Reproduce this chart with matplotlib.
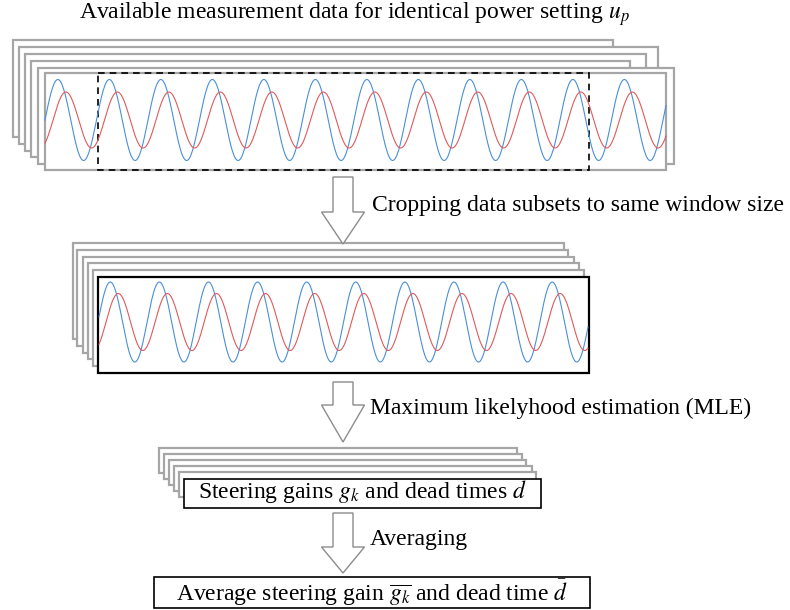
import numpy as np
from matplotlib import pyplot as plt
from matplotlib.patches import Rectangle, Polygon

plt.rcParams['font.family'] = ['Liberation Serif', 'DejaVu Serif']
plt.rcParams['mathtext.fontset'] = 'stix'

# Stacked frames of the raw measurement data (pixel coords, back to front)
top_left = [13, 19, 25, 31, 38, 45]
top_top = [40, 47, 54, 61, 68, 73]
top_right = [613, 658, 646, 630, 674, 666]
top_bottom = [137, 144, 151, 157, 164, 170]

# Cropped subsets, all the same size
mid_left = [73, 77, 83, 88, 93, 98]
mid_top = [243, 250, 257, 263, 270, 277]
mid_width = 491
mid_height = 96

# Stack of MLE results
res_left = [159, 164, 169, 174, 179]
res_top = [448, 454, 460, 466, 472]
res_right = [517, 522, 526, 532, 536]
res_height = 25

# Schematic sine waves: (period, start x, centre y, blue amp, red amp, red lag)
top_wave = (51.5, 45, 120, 40.5, 28, 8)
mid_wave = (49.1, 98, 322, 40, 28.5, 8)

blue = '#4a8fd8'
red = '#e05a5a'
gray = '#a6a6a6'
fs = 17

labels = [
    "Cropping data subsets to same window size",
    "Maximum likelyhood estimation (MLE)",
    "Averaging",
]

fig = plt.figure(figsize=(7.9, 6.1), dpi=100)
ax = fig.add_axes([0, 0, 1, 1])
ax.set_xlim(0, 790)
ax.set_ylim(610, 0)
ax.axis('off')


def frame(x0, y0, x1, y1, color=gray, lw=1.6, ls='-', fill='white'):
    ax.add_patch(Rectangle((x0, y0), x1 - x0, y1 - y0, facecolor=fill,
                           edgecolor=color, lw=lw, ls=ls))


def waves(params, x0, x1):
    period, start, yc, a_blue, a_red, lag = params
    x = np.linspace(x0, x1, 800)
    ph = 2 * np.pi * (x - start) / period
    ax.plot(x, yc - a_blue * np.sin(ph), color=blue, lw=0.8)
    ax.plot(x, yc - a_red * np.sin(ph - 2 * np.pi * lag / period), color=red, lw=0.8)


def arrow(xc, y_top, y_base, y_tip, shaft=20, head=43):
    pts = [(xc - shaft / 2, y_top), (xc + shaft / 2, y_top), (xc + shaft / 2, y_base),
           (xc + head / 2, y_base), (xc, y_tip), (xc - head / 2, y_base),
           (xc - shaft / 2, y_base)]
    ax.add_patch(Polygon(pts, closed=True, facecolor='white', edgecolor='#8c8c8c',
                         lw=1.0, zorder=5))


# Top panel
ax.text(354, 14, r"Available measurement data for identical power setting $u_p$",
        ha='center', va='center', fontsize=fs)
for l, t, r, b in zip(top_left, top_top, top_right, top_bottom):
    frame(l, t, r, b)
waves(top_wave, top_left[-1], top_right[-1])
frame(98, top_top[-1], 589, top_bottom[-1], color='black', lw=1.2,
      ls=(0, (4, 3)), fill='none')

# Arrow 1
arrow(343, 177, 212, 244)
ax.text(372, 205, labels[0], ha='left', va='center', fontsize=fs)

# Middle panel
for i, (l, t) in enumerate(zip(mid_left, mid_top)):
    last = i == len(mid_left) - 1
    frame(l, t, l + mid_width, t + mid_height,
          color='black' if last else gray, lw=1.6)
waves(mid_wave, mid_left[-1] + 1, mid_left[-1] + mid_width - 1)

# Arrow 2
arrow(343, 382, 405, 442)
ax.text(370, 408, labels[1], ha='left', va='center', fontsize=fs)

# Result stack
for l, t, r in zip(res_left, res_top, res_right):
    frame(l, t, r, t + res_height)
frame(184, 479, 541, 508, color='black', lw=1.2)
ax.text(362, 498, r"Steering gains $g_k$ and dead times $d$",
        ha='center', va='baseline', fontsize=fs)

# Arrow 3
arrow(343, 513, 547, 573)
ax.text(370, 540, labels[2], ha='left', va='center', fontsize=fs)

# Final result
frame(154, 577, 590, 608, color='black', lw=1.2)
ax.text(372, 601, r"Average steering gain $\overline{g_k}$ and dead time $\bar{d}$",
        ha='center', va='baseline', fontsize=fs)

fig.savefig('out.png', dpi=100)
